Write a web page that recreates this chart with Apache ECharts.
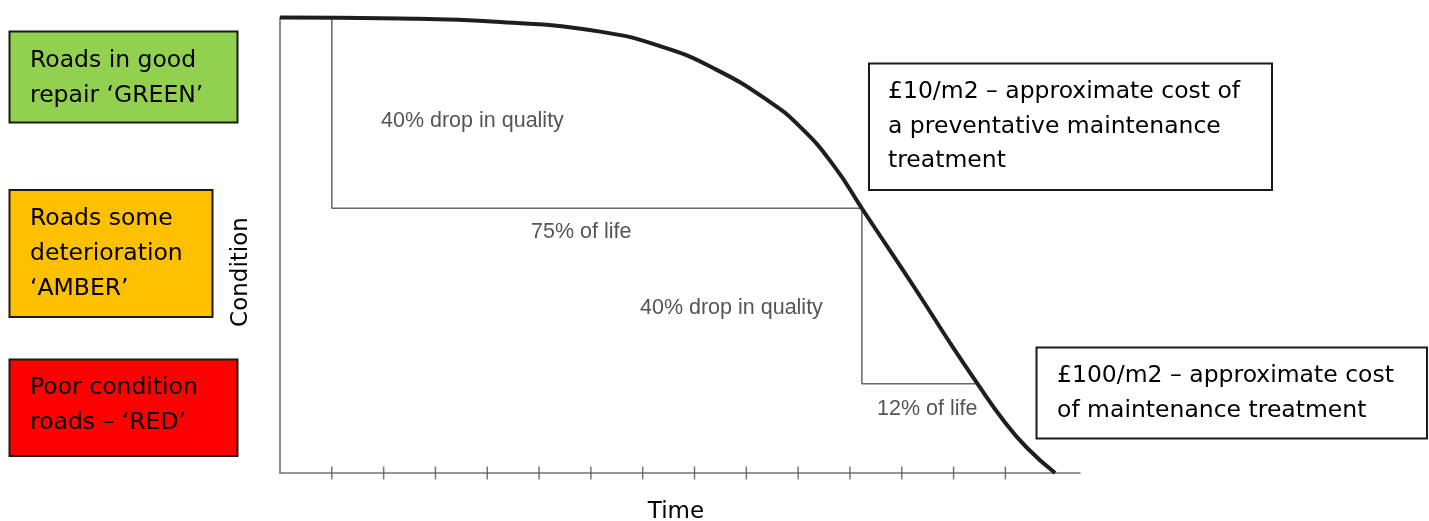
<!DOCTYPE html>
<html>
<head>
<meta charset="utf-8">
<script src="https://cdn.jsdelivr.net/npm/echarts@6/dist/echarts.min.js"></script>
<style>
html,body{margin:0;padding:0;background:#fff;}
#chart{width:1429px;height:521px;}
</style>
</head>
<body>
<div id="chart"></div>
<script>
// Time (tick units) and condition (0-100)
const timeValues      = [0, 2.32, 4.25, 6.18, 7.47, 8.43, 9.40, 10.04, 10.68, 11.23, 11.78, 12.36, 12.93, 13.45, 13.96, 14.41, 14.96];
const conditionValues = [100, 99.8, 99.0, 96.9, 93.2, 88.5, 81.9, 76.0, 67.6, 58.1, 48.7, 38.7, 28.6, 19.8, 11.6, 5.6, 0];
const timeTicks = [1,2,3,4,5,6,7,8,9,10,11,12,13,14];
// Step guides: [time, condition]
const guide1 = [[1, 100], [1, 58.1], [11.23, 58.1]];
const guide2 = [[11.23, 58.1], [11.23, 19.6], [13.45, 19.6]];
const guideLabels = ['40% drop in quality', '75% of life', '40% drop in quality', '12% of life'];
const bandLabels = ["Roads in good\nrepair \u2018GREEN\u2019", "Roads some\ndeterioration\n\u2018AMBER\u2019", "Poor condition\nroads \u2013 \u2018RED\u2019"];
const costLabels = ["\u00a310/m2 \u2013 approximate cost of\na preventative maintenance\ntreatment", "\u00a3100/m2 \u2013 approximate cost\nof maintenance treatment"];
const axisNames = ['Time', 'Condition'];

const chart = echarts.init(document.getElementById('chart'), null, {renderer: 'canvas'});
const boxFont = 'Tahoma, "DejaVu Sans", Verdana, sans-serif';
const plotFont = '"Liberation Sans", Arial, sans-serif';
function box(x, y, w, h, fill) {
  return {type: 'rect', shape: {x: x, y: y, width: w, height: h}, style: {fill: fill, stroke: '#1a1a1a', lineWidth: 2}, z: 10};
}
function txt(x, y, s, size, color, font, lh, va) {
  return {type: 'text', x: x, y: y, style: {text: s, fill: color, font: size + 'px ' + font, lineHeight: lh, verticalAlign: va || 'top'}, z: 11};
}
const option = {
  animation: false,
  backgroundColor: '#fff',
  grid: {left: 280, top: 17.5, width: 800, height: 455.5},
  xAxis: {
    type: 'value', min: 0, max: 15.44,
    axisLine: {show: true, lineStyle: {color: '#777', width: 1.5}},
    axisTick: {show: false}, axisLabel: {show: false}, splitLine: {show: false}
  },
  yAxis: {
    type: 'value', min: 0, max: 100,
    axisLine: {show: true, lineStyle: {color: '#666', width: 1.5}},
    axisTick: {show: false}, axisLabel: {show: false}, splitLine: {show: false}
  },
  series: [
    {type: 'line', data: guide1, symbol: 'none', clip: false, lineStyle: {color: '#666', width: 1.5}, z: 2},
    {type: 'line', data: guide2, symbol: 'none', clip: false, lineStyle: {color: '#666', width: 1.5}, z: 2},
    {type: 'scatter', data: timeTicks.map(t => [t, 0]), symbol: 'rect', symbolSize: [1.5, 13], clip: false,
     itemStyle: {color: '#555'}, silent: true, z: 2},
    {type: 'line', data: timeValues.map((t, i) => [t, conditionValues[i]]), smooth: 0.5,
     symbol: 'none', clip: false, lineStyle: {color: '#1e1e1e', width: 4}, z: 5}
  ],
  graphic: [
    box(9.5, 31.5, 228, 91, '#92d050'),
    box(9.5, 190, 203, 127, '#ffc000'),
    box(9.5, 359.5, 228, 96.5, '#ff0000'),
    txt(30, 43.5, bandLabels[0], 23.5, '#000', boxFont, 35),
    txt(30, 201, bandLabels[1], 23.5, '#000', boxFont, 35),
    txt(30, 370, bandLabels[2], 23.5, '#000', boxFont, 35),
    box(869, 63.5, 403, 126.5, '#fff'),
    box(1036.5, 347.5, 390.5, 91, '#fff'),
    txt(888, 75, costLabels[0], 23.5, '#000', boxFont, 34.5),
    txt(1057, 358, costLabels[1], 23.5, '#000', boxFont, 35),
    txt(381, 121, guideLabels[0], 21.5, '#555', plotFont, 22, 'middle'),
    txt(531, 232, guideLabels[1], 21.5, '#555', plotFont, 22, 'middle'),
    txt(640, 308, guideLabels[2], 21.5, '#555', plotFont, 22, 'middle'),
    txt(877, 409, guideLabels[3], 21.5, '#555', plotFont, 22, 'middle'),
    {type: 'text', x: 676, y: 512,
     style: {text: axisNames[0], fill: '#000', font: '23px ' + boxFont, align: 'center', verticalAlign: 'middle'}, z: 11},
    {type: 'text', x: 241, y: 272, rotation: Math.PI / 2,
     style: {text: axisNames[1], fill: '#000', font: '23px ' + boxFont, align: 'center', verticalAlign: 'middle'}, z: 11}
  ]
};
chart.setOption(option);
</script>
</body>
</html>
